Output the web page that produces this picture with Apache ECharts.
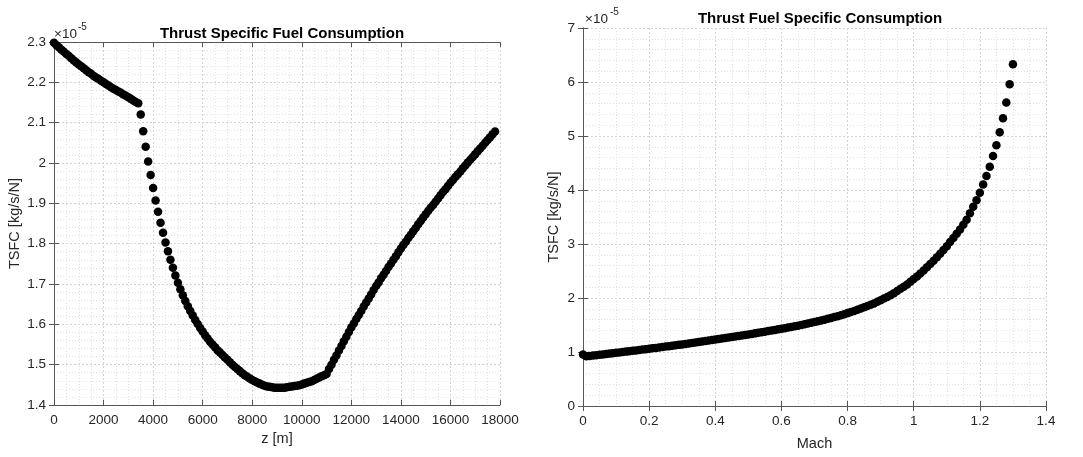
<!DOCTYPE html>
<html>
<head>
<meta charset="utf-8">
<script src="https://cdn.jsdelivr.net/npm/echarts/dist/echarts.min.js"></script>
<style>
  body { margin: 0; background: #fff; }
  #chart { width: 1083px; height: 457px; }
</style>
</head>
<body>
<div id="chart"></div>
<script>
// altitude sweep [m]
const altitude = [
  0, 100, 200, 300, 400, 500, 600, 700, 800, 900,
  1000, 1100, 1200, 1300, 1400, 1500, 1600, 1700, 1800, 1900,
  2000, 2100, 2200, 2300, 2400, 2500, 2600, 2700, 2800, 2900,
  3000, 3100, 3200, 3300, 3400, 3500, 3600, 3700, 3800, 3900,
  4000, 4100, 4200, 4300, 4400, 4500, 4600, 4700, 4800, 4900,
  5000, 5100, 5200, 5300, 5400, 5500, 5600, 5700, 5800, 5900,
  6000, 6100, 6200, 6300, 6400, 6500, 6600, 6700, 6800, 6900,
  7000, 7100, 7200, 7300, 7400, 7500, 7600, 7700, 7800, 7900,
  8000, 8100, 8200, 8300, 8400, 8500, 8600, 8700, 8800, 8900,
  9000, 9100, 9200, 9300, 9400, 9500, 9600, 9700, 9800, 9900,
  10000, 10100, 10200, 10300, 10400, 10500, 10600, 10700, 10800, 10900,
  11000, 11100, 11200, 11300, 11400, 11500, 11600, 11700, 11800, 11900,
  12000, 12100, 12200, 12300, 12400, 12500, 12600, 12700, 12800, 12900,
  13000, 13100, 13200, 13300, 13400, 13500, 13600, 13700, 13800, 13900,
  14000, 14100, 14200, 14300, 14400, 14500, 14600, 14700, 14800, 14900,
  15000, 15100, 15200, 15300, 15400, 15500, 15600, 15700, 15800, 15900,
  16000, 16100, 16200, 16300, 16400, 16500, 16600, 16700, 16800, 16900,
  17000, 17100, 17200, 17300, 17400, 17500, 17600, 17700, 17800
];
// TSFC vs altitude, in units of 1e-5 kg/s/N
const tsfcAlt = [
  2.298, 2.292, 2.287, 2.281, 2.276, 2.270, 2.265, 2.260, 2.254, 2.249,
  2.244, 2.240, 2.235, 2.230, 2.225, 2.221, 2.216, 2.212, 2.208, 2.204,
  2.200, 2.196, 2.192, 2.188, 2.184, 2.181, 2.177, 2.174, 2.170, 2.167,
  2.163, 2.159, 2.155, 2.151, 2.148, 2.120, 2.079, 2.040, 2.004, 1.970,
  1.938, 1.907, 1.879, 1.852, 1.827, 1.803, 1.781, 1.760, 1.740, 1.721,
  1.703, 1.687, 1.672, 1.658, 1.645, 1.633, 1.622, 1.611, 1.601, 1.591,
  1.582, 1.573, 1.565, 1.557, 1.550, 1.543, 1.536, 1.530, 1.524, 1.518,
  1.512, 1.506, 1.500, 1.494, 1.489, 1.484, 1.479, 1.474, 1.470, 1.466,
  1.462, 1.459, 1.456, 1.453, 1.450, 1.448, 1.446, 1.445, 1.444, 1.443,
  1.443, 1.443, 1.443, 1.443, 1.444, 1.445, 1.446, 1.447, 1.448, 1.449,
  1.451, 1.453, 1.455, 1.457, 1.459, 1.462, 1.465, 1.468, 1.471, 1.474,
  1.477, 1.489, 1.500, 1.512, 1.523, 1.535, 1.546, 1.558, 1.569, 1.581,
  1.592, 1.602, 1.613, 1.623, 1.633, 1.644, 1.654, 1.664, 1.674, 1.685,
  1.695, 1.704, 1.714, 1.723, 1.732, 1.742, 1.751, 1.760, 1.769, 1.779,
  1.788, 1.797, 1.805, 1.814, 1.822, 1.831, 1.839, 1.848, 1.856, 1.865,
  1.873, 1.881, 1.889, 1.896, 1.904, 1.912, 1.920, 1.928, 1.935, 1.943,
  1.951, 1.958, 1.965, 1.972, 1.979, 1.987, 1.994, 2.001, 2.008, 2.015,
  2.022, 2.029, 2.036, 2.043, 2.050, 2.057, 2.064, 2.071, 2.078
];

// Mach sweep
const mach = [
  0, 0.01, 0.02, 0.03, 0.04, 0.05, 0.06, 0.07, 0.08, 0.09,
  0.10, 0.11, 0.12, 0.13, 0.14, 0.15, 0.16, 0.17, 0.18, 0.19,
  0.20, 0.21, 0.22, 0.23, 0.24, 0.25, 0.26, 0.27, 0.28, 0.29,
  0.30, 0.31, 0.32, 0.33, 0.34, 0.35, 0.36, 0.37, 0.38, 0.39,
  0.40, 0.41, 0.42, 0.43, 0.44, 0.45, 0.46, 0.47, 0.48, 0.49,
  0.50, 0.51, 0.52, 0.53, 0.54, 0.55, 0.56, 0.57, 0.58, 0.59,
  0.60, 0.61, 0.62, 0.63, 0.64, 0.65, 0.66, 0.67, 0.68, 0.69,
  0.70, 0.71, 0.72, 0.73, 0.74, 0.75, 0.76, 0.77, 0.78, 0.79,
  0.80, 0.81, 0.82, 0.83, 0.84, 0.85, 0.86, 0.87, 0.88, 0.89,
  0.90, 0.91, 0.92, 0.93, 0.94, 0.95, 0.96, 0.97, 0.98, 0.99,
  1.00, 1.01, 1.02, 1.03, 1.04, 1.05, 1.06, 1.07, 1.08, 1.09,
  1.10, 1.11, 1.12, 1.13, 1.14, 1.15, 1.16, 1.17, 1.18, 1.19,
  1.20, 1.21, 1.22, 1.23, 1.24, 1.25, 1.26, 1.27, 1.28, 1.29,
  1.30
];
// TSFC vs Mach, in units of 1e-5 kg/s/N
const tsfcMach = [
  0.955, 0.920, 0.927, 0.934, 0.942, 0.949, 0.956, 0.963, 0.970, 0.978,
  0.985, 0.992, 1.000, 1.007, 1.015, 1.022, 1.030, 1.037, 1.045, 1.052,
  1.060, 1.068, 1.076, 1.084, 1.092, 1.100, 1.108, 1.116, 1.124, 1.132,
  1.140, 1.149, 1.157, 1.166, 1.175, 1.184, 1.193, 1.202, 1.211, 1.221,
  1.230, 1.239, 1.249, 1.258, 1.268, 1.277, 1.287, 1.296, 1.306, 1.315,
  1.325, 1.335, 1.345, 1.355, 1.366, 1.376, 1.387, 1.397, 1.408, 1.419,
  1.430, 1.441, 1.453, 1.464, 1.476, 1.488, 1.500, 1.513, 1.526, 1.540,
  1.555, 1.569, 1.584, 1.599, 1.614, 1.630, 1.646, 1.663, 1.681, 1.700,
  1.720, 1.740, 1.761, 1.782, 1.804, 1.827, 1.850, 1.874, 1.899, 1.929,
  1.958, 1.989, 2.020, 2.053, 2.090, 2.130, 2.170, 2.210, 2.250, 2.300,
  2.350, 2.400, 2.455, 2.510, 2.570, 2.630, 2.690, 2.755, 2.820, 2.890,
  2.960, 3.035, 3.110, 3.190, 3.270, 3.355, 3.450, 3.570, 3.690, 3.810,
  3.950, 4.100, 4.260, 4.430, 4.630, 4.830, 5.070, 5.330, 5.620, 5.960,
  6.330
];

const font = '"Liberation Sans", Arial, Helvetica, sans-serif';
const ink = '#262626';
const fmt = v => String(+v.toFixed(2));

// main axis (labels + grid) and mirror axis (ticks only), MATLAB box style
function mainAxis(gridIndex, pos, min, max, interval, minorSplit, name, nameGap) {
  return {
    type: 'value', gridIndex, position: pos, min, max, interval,
    name, nameLocation: 'middle', nameGap,
    nameTextStyle: { fontFamily: font, fontSize: 14.5, color: ink },
    axisLine: { show: true, lineStyle: { color: '#555', width: 1 } },
    axisTick: { show: true, inside: true, length: 5, lineStyle: { color: '#555' } },
    axisLabel: { fontFamily: font, fontSize: 13.5, color: ink, margin: 8, formatter: fmt,
                 showMinLabel: true, showMaxLabel: true },
    splitLine: { show: true, lineStyle: { color: '#d4d4d4', width: 1, type: [2, 2] } },
    minorTick: { show: false, splitNumber: minorSplit },
    minorSplitLine: { show: true, lineStyle: { color: '#e0e0e0', width: 1, type: [1, 2] } }
  };
}
function mirrorAxis(gridIndex, pos, min, max, interval) {
  return {
    type: 'value', gridIndex, position: pos, min, max, interval,
    axisLine: { show: true, lineStyle: { color: '#555', width: 1 } },
    axisTick: { show: true, inside: true, length: 5, lineStyle: { color: '#555' } },
    axisLabel: { show: false },
    splitLine: { show: false }
  };
}

const chart = echarts.init(document.getElementById('chart'));
chart.setOption({
  animation: false,
  backgroundColor: '#fff',
  title: [
    { text: 'Thrust Specific Fuel Consumption', left: 277, top: 21, textAlign: 'center',
      textStyle: { fontFamily: font, fontSize: 15, fontWeight: 'bold', color: '#000' } },
    { text: 'Thrust Fuel Specific Consumption', left: 815, top: 6, textAlign: 'center',
      textStyle: { fontFamily: font, fontSize: 15, fontWeight: 'bold', color: '#000' } }
  ],
  grid: [
    { left: 54, top: 42, width: 446, height: 363, show: true, borderWidth: 0, backgroundColor: '#fff' },
    { left: 583, top: 28, width: 463, height: 378, show: true, borderWidth: 0, backgroundColor: '#fff' }
  ],
  xAxis: [
    mainAxis(0, 'bottom', 0, 18000, 2000, 4, 'z [m]', 24),
    mainAxis(1, 'bottom', 0, 1.4, 0.2, 4, 'Mach', 30),
    mirrorAxis(0, 'top', 0, 18000, 2000),
    mirrorAxis(1, 'top', 0, 1.4, 0.2)
  ],
  yAxis: [
    mainAxis(0, 'left', 1.4, 2.3, 0.1, 5, 'TSFC [kg/s/N]', 32),
    mainAxis(1, 'left', 0, 7, 1, 5, 'TSFC [kg/s/N]', 22),
    mirrorAxis(0, 'right', 1.4, 2.3, 0.1),
    mirrorAxis(1, 'right', 0, 7, 1)
  ],
  graphic: [
    { type: 'text', left: 54, top: 27, style: { text: '×10', fontFamily: font, fontSize: 13.5, fill: ink } },
    { type: 'text', left: 78, top: 22, style: { text: '-5', fontFamily: font, fontSize: 10, fill: ink } },
    { type: 'text', left: 585, top: 12, style: { text: '×10', fontFamily: font, fontSize: 13.5, fill: ink } },
    { type: 'text', left: 610, top: 7, style: { text: '-5', fontFamily: font, fontSize: 10, fill: ink } }
  ],
  series: [
    {
      type: 'scatter', xAxisIndex: 0, yAxisIndex: 0,
      symbol: 'circle', symbolSize: 8.5,
      itemStyle: { color: '#000', opacity: 1 },
      data: altitude.map((z, i) => [z, tsfcAlt[i]])
    },
    {
      type: 'scatter', xAxisIndex: 1, yAxisIndex: 1,
      symbol: 'circle', symbolSize: 8.5,
      itemStyle: { color: '#000', opacity: 1 },
      data: mach.map((m, i) => [m, tsfcMach[i]])
    }
  ]
});
</script>
</body>
</html>
